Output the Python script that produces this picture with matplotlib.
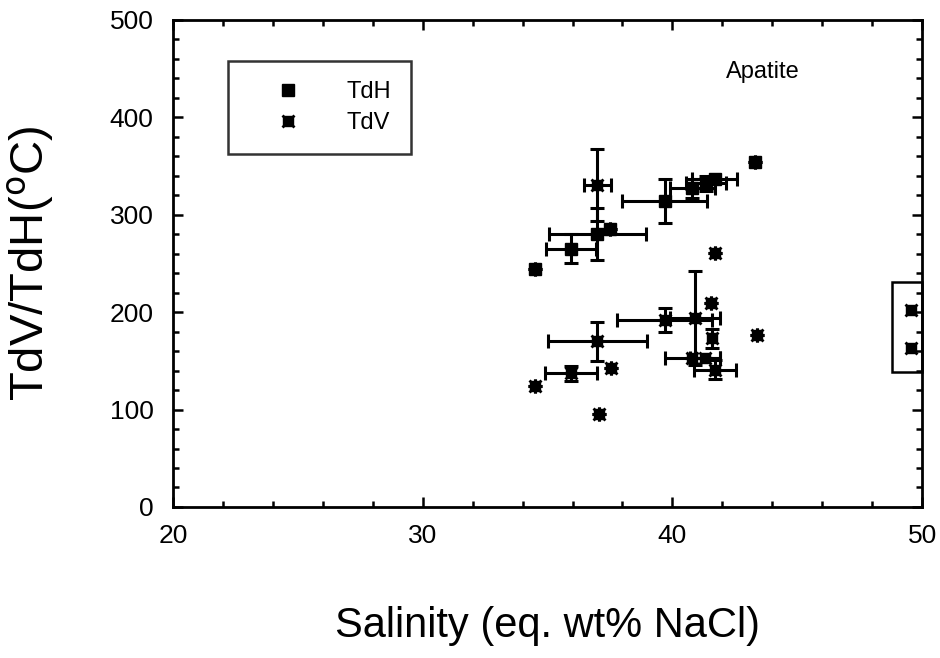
"""
Apatite fluid inclusions: homogenisation temperature vs salinity.
"""

import matplotlib
matplotlib.use('Agg')
from matplotlib import pyplot as plt
from matplotlib.patches import Rectangle
from matplotlib.legend_handler import HandlerTuple
from matplotlib.ticker import MultipleLocator

plt.rcParams['font.family'] = ['Liberation Sans', 'DejaVu Sans']

# TdH (filled squares)
tdh_salinity = [34.5, 35.95, 37.0, 37.5, 39.7, 40.8, 41.35, 41.7, 43.3]
tdh_temp = [244, 265, 280, 285, 314, 327, 332, 337, 354]
tdh_xerr = [0, 1.0, 1.95, 0, 1.7, 0.9, 0.8, 0.9, 0]
tdh_yerr = [0, 15, 27, 0, 23, 10, 8, 0, 0]

# TdV (crossed squares)
tdv_salinity = [37.0, 41.7, 41.55, 39.7, 40.9, 43.4, 41.6, 40.8, 41.3,
                41.7, 37.0, 35.95, 37.55, 34.5, 37.05]
tdv_temp = [330, 261, 209, 192, 194, 176, 173, 153, 153,
            141, 170, 137, 143, 124, 95]
tdv_xerr = [0.55, 0, 0, 1.9, 1.0, 0, 0, 1.1, 0.6,
            0.85, 2.0, 1.05, 0, 0, 0]
tdv_yerr = [37, 0, 0, 12, 48, 0, 10, 0, 0,
            10, 20, 8, 0, 0, 0]

# the two points in the little box on the right edge
box_salinity = [49.56, 49.56]
box_temp = [202, 163]

fig = plt.figure(figsize=(9.4, 6.58), dpi=100)
ax = fig.add_axes([0.184, 0.2295, 0.797, 0.7405])

ax.errorbar(tdh_salinity, tdh_temp, xerr=tdh_xerr, yerr=tdh_yerr, fmt='none',
            ecolor='black', elinewidth=2.2, capsize=5, capthick=2.2)
ax.errorbar(tdv_salinity, tdv_temp, xerr=tdv_xerr, yerr=tdv_yerr, fmt='none',
            ecolor='black', elinewidth=2.2, capsize=5, capthick=2.2)

h1, = ax.plot(tdh_salinity, tdh_temp, 's', color='black', markersize=9)
h2a, = ax.plot(tdv_salinity + box_salinity, tdv_temp + box_temp, 's',
               color='black', markersize=6.5)
h2b, = ax.plot(tdv_salinity + box_salinity, tdv_temp + box_temp, 'x',
               color='black', markersize=9, markeredgewidth=2)

ax.add_patch(Rectangle((48.8, 139), 1.2, 92, fill=False, edgecolor='black',
                       linewidth=1.8, clip_on=False))

ax.set_xlim(20, 50)
ax.set_ylim(0, 500)
ax.xaxis.set_major_locator(MultipleLocator(10))
ax.xaxis.set_minor_locator(MultipleLocator(2))
ax.yaxis.set_major_locator(MultipleLocator(100))
ax.yaxis.set_minor_locator(MultipleLocator(20))
ax.tick_params(which='both', direction='in', top=True, right=True,
               labelsize=19, width=1.8)
ax.tick_params(which='major', length=7)
ax.tick_params(which='minor', length=4)
ax.tick_params(axis='y', pad=14)
ax.tick_params(axis='x', pad=12)
for s in ax.spines.values():
    s.set_linewidth(2)

ax.set_xlabel('Salinity (eq. wt% NaCl)', fontsize=30, labelpad=42)
ax.set_ylabel('TdV/TdH($^{\\rm o}$C)', fontsize=34, labelpad=38)

ax.text(42.15, 440, 'Apatite', fontsize=17)

leg = ax.legend([h1, (h2a, h2b)], ['TdH', 'TdV'], loc='upper left',
                bbox_to_anchor=(0.058, 0.94), fontsize=17, frameon=True,
                fancybox=False, edgecolor='black', borderpad=0.85,
                handlelength=3.4, handletextpad=0.75, labelspacing=0.4,
                handler_map={tuple: HandlerTuple(ndivide=1)})
leg.get_frame().set_linewidth(1.8)

plt.savefig('out.png', dpi=100)
